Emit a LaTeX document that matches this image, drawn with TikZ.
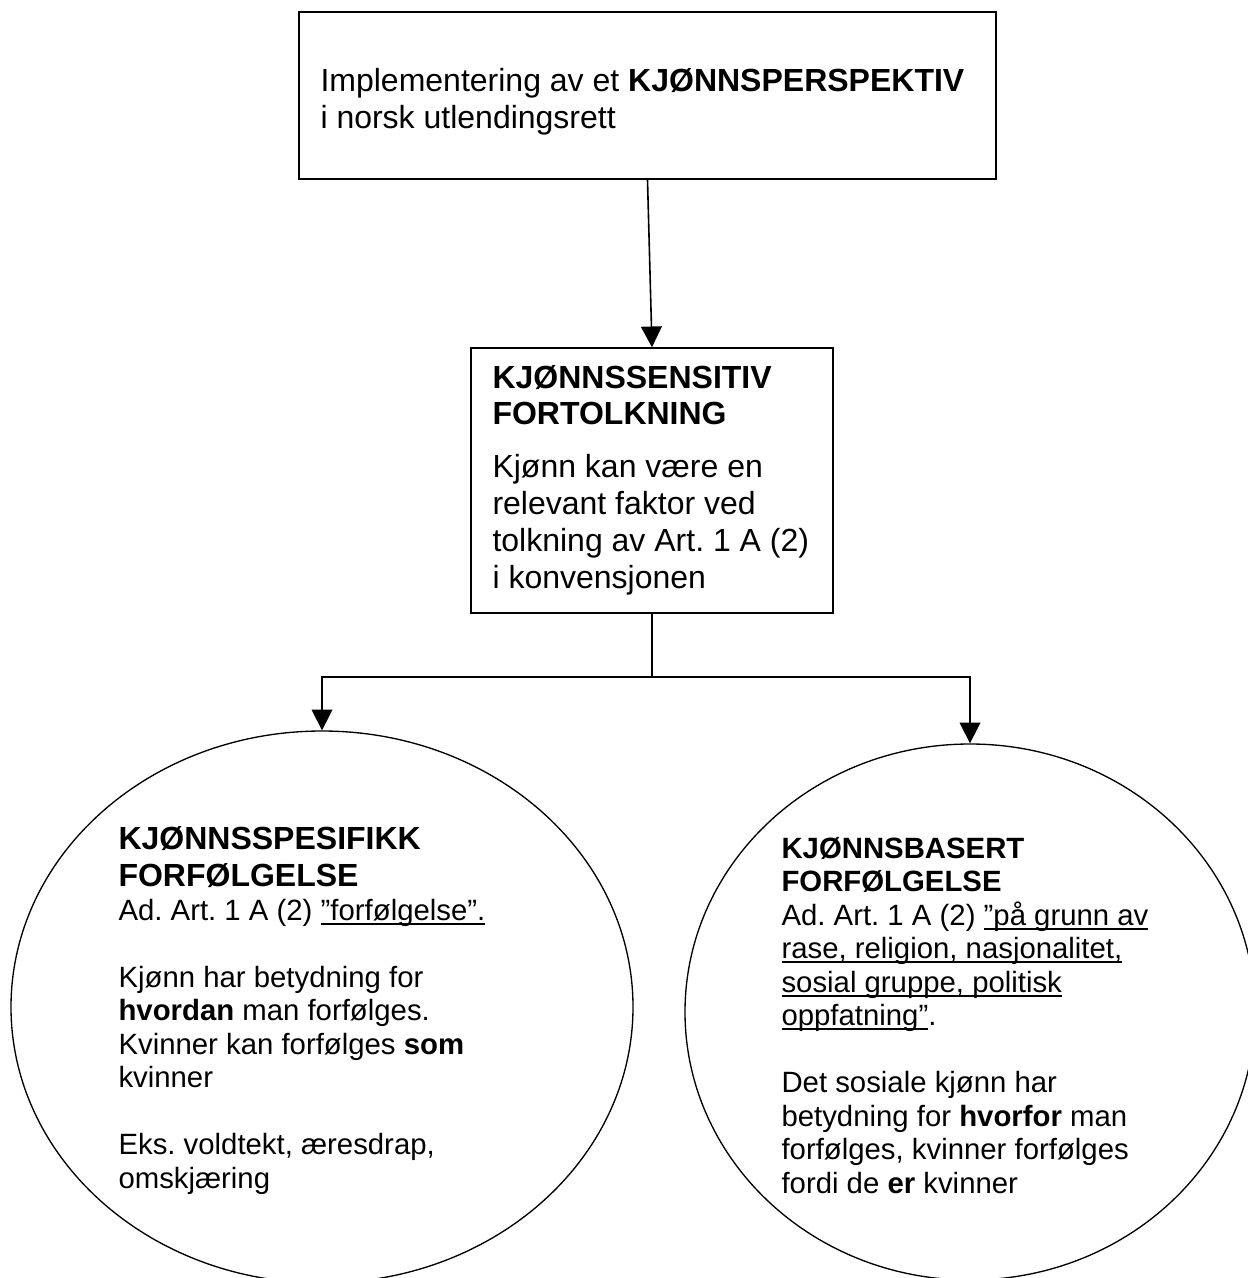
\documentclass[tikz,border=0pt]{standalone}
\usepackage{fontspec}
\setmainfont{Liberation Sans}
\usetikzlibrary{shapes.geometric,arrows.meta}
\frenchspacing

\newlength{\ulwd}
\newcommand{\ulin}[1]{\settowidth{\ulwd}{#1}\rlap{\rule[-1.7pt]{\ulwd}{0.75pt}}#1}

\begin{document}
\begin{tikzpicture}[x=0.375pt, y=-0.375pt,
    boxnode/.style={draw, rectangle, line width=0.5pt, inner sep=0pt},
    roundnode/.style={draw, ellipse, line width=0.5pt, inner sep=0pt},
    txt/.style={anchor=base west, align=left, inner sep=0pt},
    arr/.style={-{Triangle[length=7.8pt, width=7.8pt]}, line width=0.6pt}]
  \useasboundingbox (0,0) rectangle (1247,1278);

  % Top box (text nodes sit on the baseline of their last line)
  \node[boxnode, minimum width=261.4pt, minimum height=62.6pt] (implbox) at (647.5,95.5) {};
  \node[txt, font=\fontsize{12}{13.8}\selectfont] (impltext) at (320,128)
    {Implementering av et \textbf{KJØNNSPERSPEKTIV}\\ i norsk utlendingsrett};

  % Middle box
  \node[boxnode, minimum width=135.75pt, minimum height=99.4pt] (sensbox) at (652,480.5) {};
  \node[txt, font=\fontsize{12}{13.8}\selectfont] (senstext) at (492,588)
    {\textbf{KJØNNSSENSITIV}\\ \textbf{FORTOLKNING}\\[6pt]
     Kjønn kan være en\\ relevant faktor ved\\ tolkning av Art. 1 A (2)\\ i konvensjonen};

  % Left ellipse
  \node[roundnode, minimum width=233.25pt, minimum height=207pt] (spesell) at (322,1007) {};
  \node[txt, font=\fontsize{12}{13.8}\selectfont\bfseries] (speshead) at (118,886)
    {KJØNNSSPESIFIKK\\ FORFØLGELSE};
  \node[txt, font=\fontsize{11}{12.56}\selectfont] (spestext) at (118,1188)
    {Ad. Art. 1 A (2) \ulin{”forfølgelse”.}\\[12.56pt]
     Kjønn har betydning for\\ \textbf{hvordan} man forfølges.\\
     Kvinner kan forfølges \textbf{som}\\ kvinner\\[12.56pt]
     Eks. voldtekt, æresdrap,\\ omskjæring};

  % Right ellipse
  \node[roundnode, minimum width=213.75pt, minimum height=201pt] (basell) at (970,1012) {};
  \node[txt, font=\fontsize{11}{12.56}\selectfont] (bastext) at (781,1193)
    {\textbf{KJØNNSBASERT}\\ \textbf{FORFØLGELSE}\\
     Ad. Art. 1 A (2) \ulin{”på grunn av}\\ \ulin{rase, religion, nasjonalitet,}\\
     \ulin{sosial gruppe, politisk}\\ \ulin{oppfatning”}.\\[12.56pt]
     Det sosiale kjønn har\\ betydning for \textbf{hvorfor} man\\
     forfølges, kvinner forfølges\\ fordi de \textbf{er} kvinner};

  % Connectors
  \coordinate (split) at (652,677);
  \draw[arr] (implbox.south) -- (sensbox.north);
  \draw[line width=0.6pt] (sensbox.south) -- (split);
  \draw[arr] (split) -| (spesell.north);
  \draw[arr] (split) -| (basell.north);
\end{tikzpicture}
\end{document}
